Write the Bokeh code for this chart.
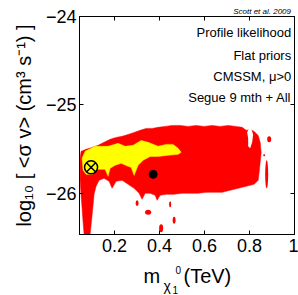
from bokeh.plotting import figure
from bokeh.models import Range1d, FixedTicker, LinearAxis, Label, CustomJSTickFormatter
from bokeh.layouts import column
from bokeh.embed import file_html
from bokeh.resources import INLINE

# ---- axis ticks ----
x_ticks = [0.2, 0.4, 0.6, 0.8, 1.0]
x_tick_labels = ["0.2", "0.4", "0.6", "0.8", "1"]
y_ticks = [-26, -25, -24]
y_tick_labels = ["\u221226", "\u221225", "\u221224"]

# ---- 2 sigma (red) region outline: neutralino mass [TeV], log10 <sigma v> ----
red_x = [0.0476, 0.052, 0.0742, 0.1009, 0.1276, 0.1542, 0.1809, 0.2076, 0.2342, 0.2609,
         0.2876, 0.3142, 0.3409, 0.3676, 0.3942, 0.4253, 0.4564, 0.492, 0.5276, 0.5631,
         0.5987, 0.6342, 0.6698, 0.7053, 0.7409, 0.7676, 0.7853, 0.8031, 0.8209, 0.8387,
         0.8476, 0.852, 0.8476, 0.8431, 0.8387, 0.8209,
         0.7853, 0.7498, 0.7142, 0.6787, 0.6431, 0.6076, 0.572, 0.5364, 0.5009, 0.4653,
         0.4298, 0.4031, 0.3898, 0.3809, 0.3587, 0.3364, 0.3231, 0.3098, 0.2876, 0.2609,
         0.2342, 0.2076, 0.1898, 0.1764, 0.1542, 0.132, 0.1187, 0.1098, 0.1053, 0.1009,
         0.0964, 0.092, 0.0653, 0.0609, 0.0564, 0.052, 0.0476]
red_y = [-25.607, -25.528, -25.505, -25.483, -25.460, -25.426, -25.392, -25.370, -25.358, -25.336,
         -25.313, -25.290, -25.268, -25.268, -25.256, -25.245, -25.234, -25.234, -25.245, -25.234,
         -25.245, -25.234, -25.245, -25.234, -25.245, -25.256, -25.290, -25.279, -25.302, -25.347,
         -25.426, -25.539, -25.653, -25.766, -25.856, -25.902,
         -25.924, -25.947, -25.969, -25.992, -25.992, -25.992, -26.003, -26.003, -26.003, -26.015,
         -26.015, -26.026, -26.083, -26.026, -26.003, -26.003, -26.071, -26.003, -25.947, -25.902,
         -25.856, -25.868, -25.947, -25.868, -25.834, -25.856, -25.924, -26.015, -26.139, -26.252,
         -26.366, -26.470, -26.470, -26.332, -26.173, -26.026, -25.856]

# white gap inside the red region
gap_x = [0.7942, 0.8076, 0.8164, 0.812, 0.8031, 0.7942, 0.7942, 0.7898]
gap_y = [-25.279, -25.268, -25.336, -25.426, -25.494, -25.471, -25.381, -25.313]

# small isolated red islands
island_x = [0.8876, 0.8653, 0.8764, 0.3009, 0.3498, 0.4476, 0.4653, 0.4076]
island_y = [-25.392, -25.573, -25.788, -26.117, -26.218, -26.128, -26.309, -26.400]
island_w = [0.018, 0.009, 0.0133, 0.013, 0.027, 0.009, 0.013, 0.018]
island_h = [0.068, 0.023, 0.317, 0.068, 0.057, 0.068, 0.079, 0.090]

# ---- 1 sigma (yellow) region outline ----
yellow_x = [0.0564, 0.0698, 0.1142, 0.172, 0.2164, 0.2476, 0.2831, 0.3187, 0.3498, 0.3942,
            0.4298, 0.4609, 0.4831, 0.4964, 0.4831, 0.4387, 0.3942, 0.3587, 0.3276, 0.3053,
            0.2876, 0.2742, 0.2609, 0.2298, 0.2031, 0.1809, 0.172, 0.1587, 0.1276, 0.1009,
            0.0742, 0.0609]
yellow_y = [-25.607, -25.528, -25.471, -25.471, -25.437, -25.471, -25.460, -25.404, -25.426, -25.471,
            -25.449, -25.449, -25.494, -25.539, -25.562, -25.573, -25.585, -25.585, -25.630, -25.686,
            -25.800, -25.709, -25.698, -25.664, -25.686, -25.720, -25.811, -25.732, -25.732, -25.788,
            -25.788, -25.743]

# best fit point and posterior mean
best_x = [0.0964]
best_y = [-25.709]
mean_x = [0.372]
mean_y = [-25.788]

CREDIT = "Scott et al. 2009"
FONT = "Liberation Sans"

p = figure(frame_width=215, frame_height=218,
           x_range=Range1d(0.045, 1.0), y_range=Range1d(-26.47, -24.0),
           output_backend="svg", toolbar_location=None,
           min_border_left=79, min_border_right=4, min_border_top=16, min_border_bottom=24)
p.grid.visible = False
p.outline_line_color = "black"
p.outline_line_width = 1
p.background_fill_color = "white"
p.border_fill_color = "white"

for ax in (p.xaxis[0], p.yaxis[0]):
    ax.major_tick_in = 4
    ax.major_tick_out = 0
    ax.minor_tick_in = 0
    ax.minor_tick_out = 0
    ax.minor_tick_line_color = None
    ax.axis_line_color = "black"
    ax.major_tick_line_color = "black"
    ax.major_label_text_font = FONT
    ax.major_label_text_font_size = "18px"
    ax.major_label_text_color = "black"
p.xaxis.major_label_standoff = 4
p.yaxis.major_label_standoff = 3

p.xaxis.ticker = FixedTicker(ticks=x_ticks)
p.xaxis.major_label_overrides = dict(zip(x_ticks, x_tick_labels))
p.yaxis.ticker = FixedTicker(ticks=y_ticks)
p.yaxis.major_label_overrides = dict(zip(y_ticks, y_tick_labels))
p.yaxis.axis_label = "log\u2081\u2080 [ <\u03c3 v> (cm\u00b3 s\u207b\u00b9) ]"
p.yaxis.axis_label_text_font = FONT
p.yaxis.axis_label_text_font_size = "20px"
p.yaxis.axis_label_text_font_style = "normal"
p.yaxis.axis_label_text_color = "black"
p.yaxis.axis_label_standoff = 8

# top axis: inward ticks at the x tick positions (as minor ticks) and the credit line as its only label
credit_pos = 0.856  # label centre, placed so the text ends near the right edge
top = LinearAxis(ticker=FixedTicker(ticks=[credit_pos], minor_ticks=x_ticks),
                 major_tick_line_color=None, major_tick_in=0, major_tick_out=0,
                 minor_tick_in=4, minor_tick_out=0,
                 minor_tick_line_color="black", axis_line_color="black",
                 major_label_overrides={credit_pos: CREDIT},
                 major_label_text_font=FONT, major_label_text_font_size="8px",
                 major_label_text_font_style="italic", major_label_text_color="black",
                 major_label_standoff=1)
blank = CustomJSTickFormatter(code="return ''")
right = LinearAxis(ticker=FixedTicker(ticks=y_ticks), major_tick_in=4, major_tick_out=0,
                   minor_tick_in=0, minor_tick_out=0,
                   minor_tick_line_color=None, formatter=blank, major_label_text_font_size="1px",
                   major_label_standoff=0, axis_line_color="black")
p.add_layout(top, "above")
p.add_layout(right, "right")

RED = "#ff0000"
YEL = "#ffff00"
p.patch(red_x, red_y, fill_color=RED, line_color=RED, line_width=0.5)
p.patch(gap_x, gap_y, fill_color="white", line_color=None)
p.ellipse(x=island_x, y=island_y, width=island_w, height=island_h, fill_color=RED, line_color=None)
p.patch(yellow_x, yellow_y, fill_color=YEL, line_color=YEL, line_width=0.5)
p.scatter(mean_x, mean_y, size=8, color="black")
p.scatter(best_x, best_y, marker="circle_x", size=13, fill_color=YEL, line_color="black", line_width=1.5)

def lab(fig, x, y, text, size, align="left", style="normal"):
    fig.add_layout(Label(x=x, y=y, x_units="screen", y_units="screen", text=text,
                         text_align=align, text_baseline="alphabetic", text_font=FONT,
                         text_font_size=size, text_font_style=style, text_color="black"))

lab(p, 211.7, 202, "Profile likelihood", "13px", "right")
lab(p, 211.7, 179.5, "Flat priors", "13px", "right")
lab(p, 211.7, 158, "CMSSM, \u03bc>0", "13px", "right")
lab(p, 211.7, 137, "Segue 9 mth + All", "13px", "right")

# strip below the plot holding the x axis label m_{chi_1}^0 (TeV); its frame lines up with the plot frame
p2 = figure(width=298, height=37, x_range=Range1d(0, 1), y_range=Range1d(0, 1),
            output_backend="svg", toolbar_location=None, min_border=0,
            x_axis_location=None, y_axis_location=None)
p2.grid.visible = False
p2.outline_line_color = None
p2.background_fill_color = "white"
p2.border_fill_color = "white"

lab(p2, 64, 20, "m", "20px")
lab(p2, 84, 10, "\u03c7", "14px")
lab(p2, 93, 6, "1", "10px")
lab(p2, 96, 26, "0", "10px")
lab(p2, 104, 20, "(TeV)", "20px")

layout = column(p, p2, spacing=0)
open("out.html", "w").write(file_html(layout, INLINE))
